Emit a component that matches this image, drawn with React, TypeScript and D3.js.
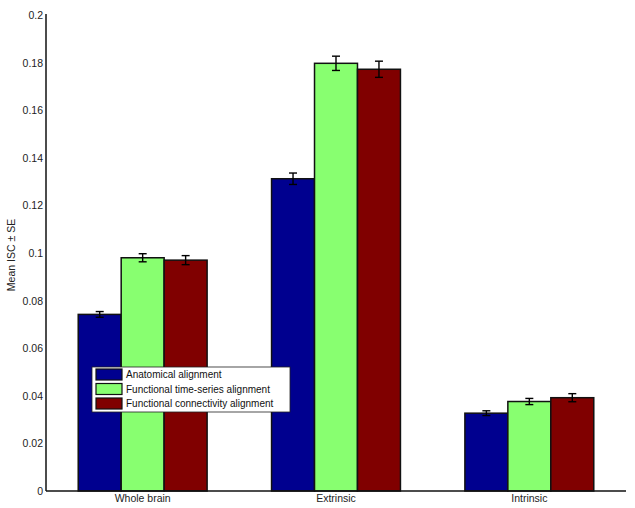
import React from "react";
import * as d3 from "d3";

const categories = ["Whole brain", "Extrinsic", "Intrinsic"];
const seriesNames = [
  "Anatomical alignment",
  "Functional time-series alignment",
  "Functional connectivity alignment",
];
const anatomical = [0.0742, 0.1312, 0.0327];
const functionalTS = [0.0980, 0.1797, 0.0376];
const functionalConn = [0.0970, 0.1772, 0.0392];
const anatomicalSE = [0.0012, 0.0024, 0.0010];
const functionalTSSE = [0.0017, 0.0030, 0.0013];
const functionalConnSE = [0.0019, 0.0034, 0.0017];
const yTicks = [0, 0.02, 0.04, 0.06, 0.08, 0.1, 0.12, 0.14, 0.16, 0.18, 0.2];
const colors = ["#00008F", "#88FF70", "#800000"];

const values = [anatomical, functionalTS, functionalConn];
const errors = [anatomicalSE, functionalTSSE, functionalConnSE];

const W = 635;
const H = 508;
const FONT = "'Liberation Sans', Arial, sans-serif";

export default function App() {
  const x = d3.scaleLinear().domain([0.5, 3.5]).range([46, 626]);
  const y = d3.scaleLinear().domain([0, 0.2]).range([491, 15]);
  const groupWidth = 3 / (3 + 1.5);
  const bw = groupWidth / 3;
  const bwPx = x(bw) - x(0);
  const cap = 4;

  return (
    <svg
      width={W}
      height={H}
      style={{ position: "absolute", left: 0, top: 0, background: "#fff" }}
      fontFamily={FONT}
    >
      <rect x={0} y={0} width={W} height={H} fill="#fff" />
      {values.map((ser, s) =>
        ser.map((v, i) => {
          const cx = x(i + 1 + (s - 1) * bw);
          return (
            <rect
              key={`b${s}-${i}`}
              x={cx - bwPx / 2}
              y={y(v)}
              width={bwPx}
              height={y(0) - y(v)}
              fill={colors[s]}
              stroke="#111"
              strokeWidth={1.5}
            />
          );
        })
      )}
      {values.map((ser, s) =>
        ser.map((v, i) => {
          const cx = x(i + 1 + (s - 1) * bw);
          const e = errors[s][i];
          const y1 = y(v + e);
          const y2 = y(v - e);
          return (
            <g key={`e${s}-${i}`} stroke="#000" strokeWidth={1.4}>
              <line x1={cx} x2={cx} y1={y1} y2={y2} />
              <line x1={cx - cap} x2={cx + cap} y1={y1} y2={y1} />
              <line x1={cx - cap} x2={cx + cap} y1={y2} y2={y2} />
            </g>
          );
        })
      )}
      {/* axes */}
      <line x1={46} x2={46} y1={14} y2={y(0)} stroke="#111" strokeWidth={1.5} />
      <line x1={46} x2={626} y1={y(0)} y2={y(0)} stroke="#111" strokeWidth={1.5} />
      {yTicks.map((t) => (
        <text
          key={`yt${t}`}
          x={43}
          y={y(t)}
          textAnchor="end"
          dominantBaseline="central"
          fontSize={10.5}
          fill="#222"
        >
          {d3.format("~g")(t)}
        </text>
      ))}
      {categories.map((c, i) => (
        <text
          key={`xt${c}`}
          x={x(i + 1)}
          y={502}
          textAnchor="middle"
          fontSize={10.5}
          fill="#222"
        >
          {c}
        </text>
      ))}
      <text
        transform={`translate(15,255) rotate(-90)`}
        textAnchor="middle"
        fontSize={10.5}
        fill="#222"
      >
        Mean ISC ± SE
      </text>
      {/* legend */}
      <g>
        <rect x={92} y={367} width={198} height={45} fill="#fff" stroke="#222" strokeWidth={0.8} />
        {seriesNames.map((n, s) => {
          const cy = 374.5 + s * 14.5;
          return (
            <g key={`lg${s}`}>
              <rect x={96} y={cy - 5.5} width={26} height={11} fill={colors[s]} stroke="#111" strokeWidth={1.2} />
              <text x={126} y={cy} dominantBaseline="central" fontSize={10} fill="#111">
                {n}
              </text>
            </g>
          );
        })}
      </g>
    </svg>
  );
}
